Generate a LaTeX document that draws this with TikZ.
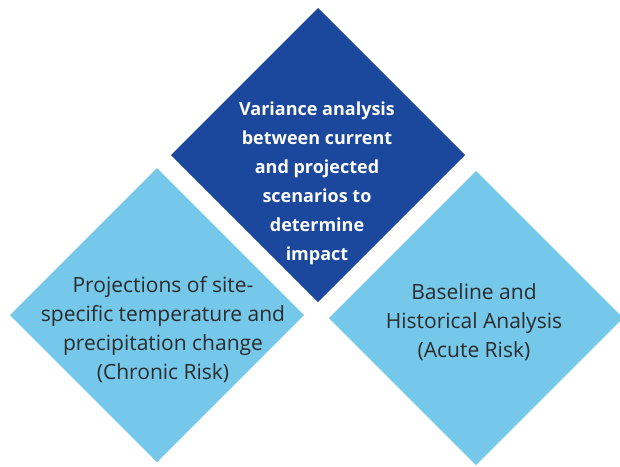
\documentclass[tikz,border=0pt]{standalone}
\usepackage{fontspec}
\setmainfont{Open Sans}
\usetikzlibrary{shapes.geometric}
\definecolor{darkblue}{HTML}{1B479C}
\definecolor{lightblue}{HTML}{76C8EA}
\definecolor{textgray}{HTML}{2B2B2B}
\tikzset{
  dia/.style={shape=diamond, minimum width=294pt, minimum height=294pt, inner sep=0pt, outer sep=0pt, draw=none, aspect=1},
  darktext/.style={align=center, text=white, font=\fontsize{18}{29}\selectfont\bfseries, inner sep=0pt},
  lighttext/.style={align=center, text=textgray, font=\fontsize{21}{29}\selectfont, inner sep=0pt}
}
\begin{document}
\begin{tikzpicture}[x=1pt,y=-1pt]
\useasboundingbox (0,0) rectangle (620,466);
\fill[white] (0,0) rectangle (620,466);
\node[dia, fill=darkblue] (top) at (318,155) {};
\node[dia, fill=lightblue] (left) at (157,315) {};
\node[dia, fill=lightblue] (right) at (476,318) {};
\node[darktext] (toptext) at (317,183) {Variance analysis\\between current\\and projected\\scenarios to\\determine\\impact};
\node[lighttext] (lefttext) at (163,330) {Projections of site-\\specific temperature and\\precipitation change\\(Chronic Risk)};
\node[lighttext] (righttext) at (474,322) {Baseline and\\Historical Analysis\\(Acute Risk)};
\end{tikzpicture}
\end{document}
